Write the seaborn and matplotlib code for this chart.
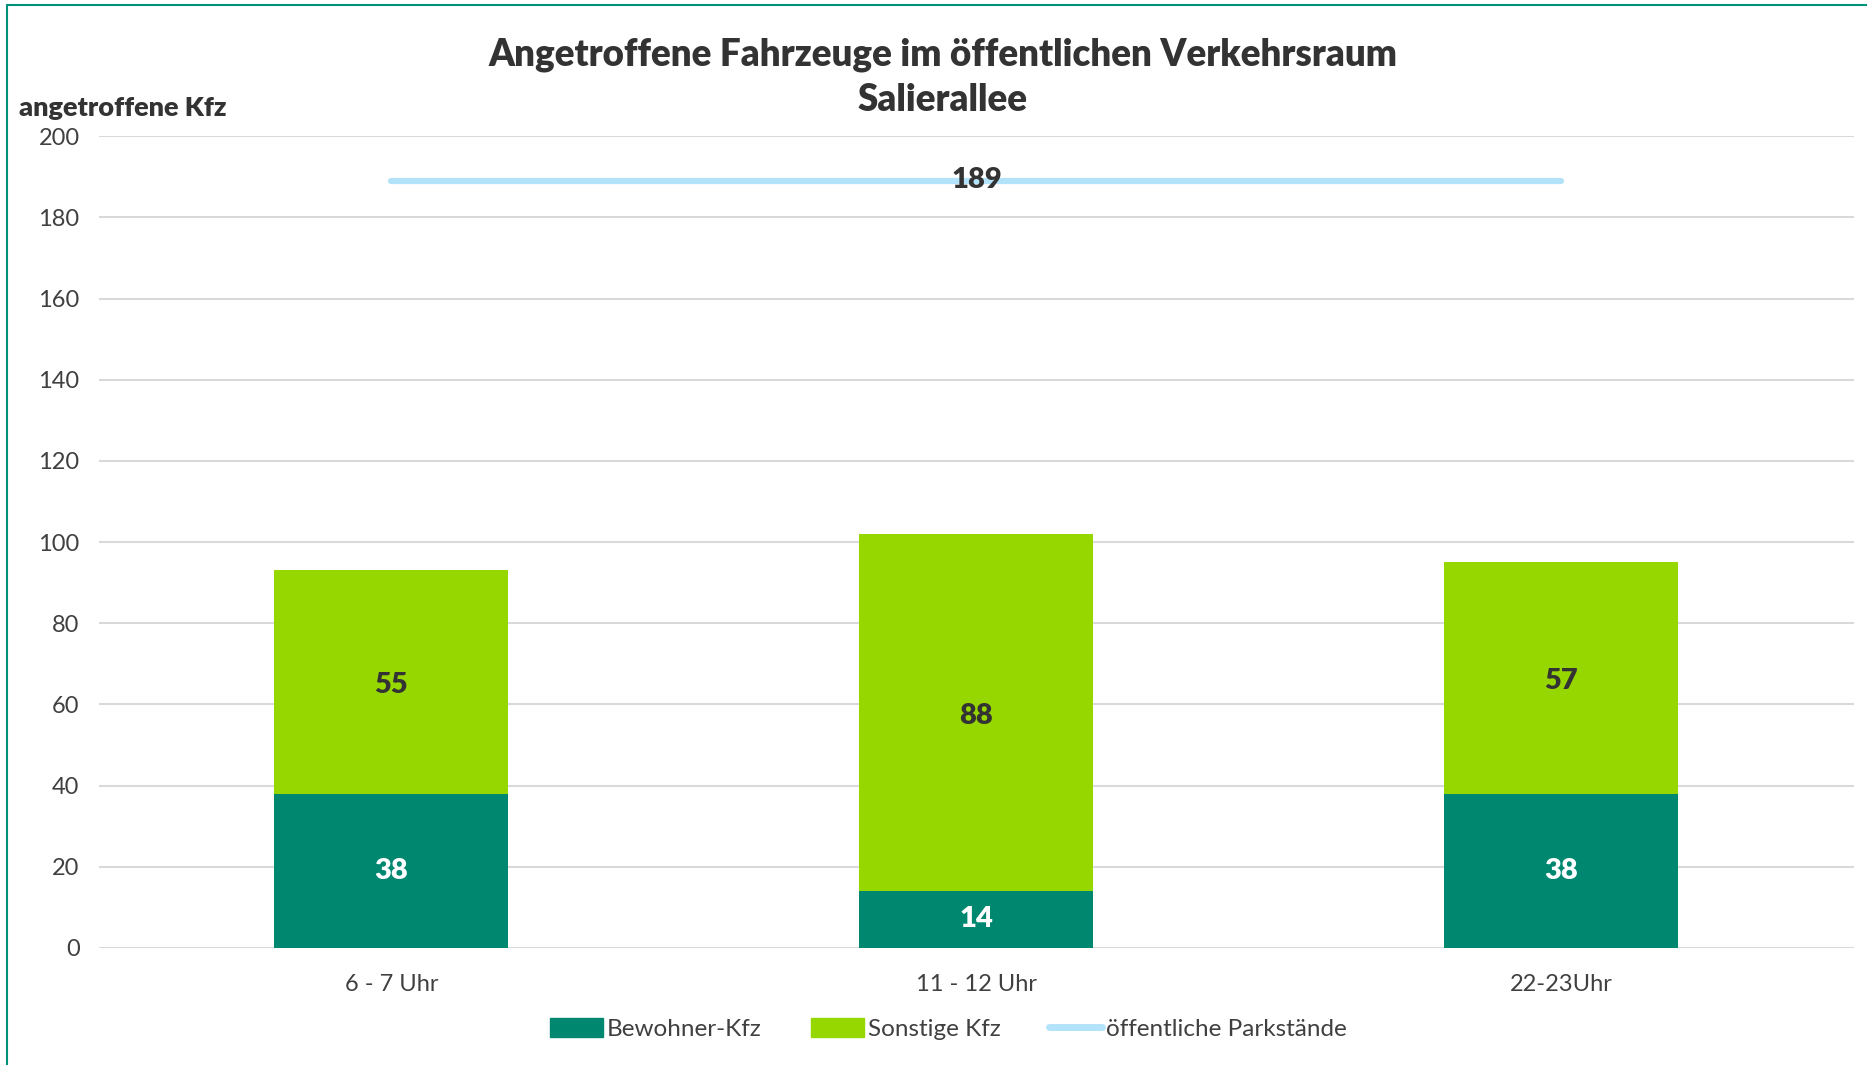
import numpy as np
import pandas as pd
import seaborn as sns
import matplotlib.pyplot as plt
from matplotlib.lines import Line2D
from matplotlib.patches import Patch

# Daten
zeiten = ['6 - 7 Uhr', '11 - 12 Uhr', '22-23Uhr']
bewohner = [38, 14, 38]
sonstige = [55, 88, 57]
parkstaende = [189, 189, 189]

TEAL = '#008770'
GRUEN = '#97d700'
HELLBLAU = '#b3e3fa'
TXT = '#333333'

sns.set_theme(style='white')
plt.rcParams['font.family'] = ['Lato', 'DejaVu Sans']

df = pd.DataFrame({'zeit': zeiten, 'bewohner': bewohner, 'sonstige': sonstige,
                   'park': parkstaende})
df['gesamt'] = df['bewohner'] + df['sonstige']

fig = plt.figure(figsize=(18.67, 10.65), dpi=100)
ax = fig.add_axes([0.053, 0.110, 0.940, 0.762])

sns.barplot(data=df, x='zeit', y='gesamt', color=GRUEN, width=0.4,
            saturation=1, linewidth=0, ax=ax, zorder=2)
sns.barplot(data=df, x='zeit', y='bewohner', color=TEAL, width=0.4,
            saturation=1, linewidth=0, ax=ax, zorder=3)
sns.lineplot(data=df, x='zeit', y='park', color=HELLBLAU, linewidth=4.5,
             ax=ax, zorder=4, solid_capstyle='round')

# Beschriftung der Segmente
for i, (b, s) in enumerate(zip(bewohner, sonstige)):
    ax.text(i, b + s / 2 - 0.8, str(s), ha='center', va='center', fontsize=21,
            fontweight='heavy', color=TXT, zorder=5)
ax.bar_label(ax.containers[1], labels=[str(v) for v in bewohner], label_type='center',
             fontsize=21, fontweight='heavy', color='white', zorder=5)
ax.text(1, parkstaende[1] + 0.3, str(parkstaende[1]), ha='center', va='center',
        fontsize=21, fontweight='heavy', color=TXT, zorder=5)

ax.set_ylim(0, 200)
ax.set_xlim(-0.5, 2.5)
ax.set_yticks(np.arange(0, 201, 20))
ax.yaxis.grid(True, color='#d9d9d9', linewidth=1.5, zorder=0)
ax.set_axisbelow(True)
for sp in ax.spines.values():
    sp.set_visible(False)
ax.tick_params(axis='both', length=0, labelsize=17, labelcolor='#404040', pad=14)
ax.tick_params(axis='x', pad=19)
ax.set_xlabel('')
ax.set_ylabel('')

fig.text(0.505, 0.965, 'Angetroffene Fahrzeuge im öffentlichen Verkehrsraum\nSalierallee',
         ha='center', va='top', fontsize=26.5, fontweight='heavy', color=TXT,
         linespacing=1.4)
fig.text(0.010, 0.899, 'angetroffene Kfz', ha='left', va='center', fontsize=19.5,
         fontweight='heavy', color=TXT)

handles = [Patch(color=TEAL, label='Bewohner-Kfz'),
           Patch(color=GRUEN, label='Sonstige Kfz'),
           Line2D([0], [0], color=HELLBLAU, lw=5, solid_capstyle='round',
                  label='öffentliche Parkstände')]
fig.legend(handles=handles, loc='center', bbox_to_anchor=(0.508, 0.034), ncol=3,
           frameon=False, fontsize=17.5, handlelength=2.2, handleheight=0.8,
           handletextpad=0.15, columnspacing=2.0, labelcolor='#404040')

fig.add_artist(Line2D([0.004, 0.004], [0, 0.995], color='#00917a', lw=1.5,
                      transform=fig.transFigure))
fig.add_artist(Line2D([0.004, 1], [0.995, 0.995], color='#00917a', lw=1.5,
                      transform=fig.transFigure))

fig.savefig('out.png', dpi=100)
